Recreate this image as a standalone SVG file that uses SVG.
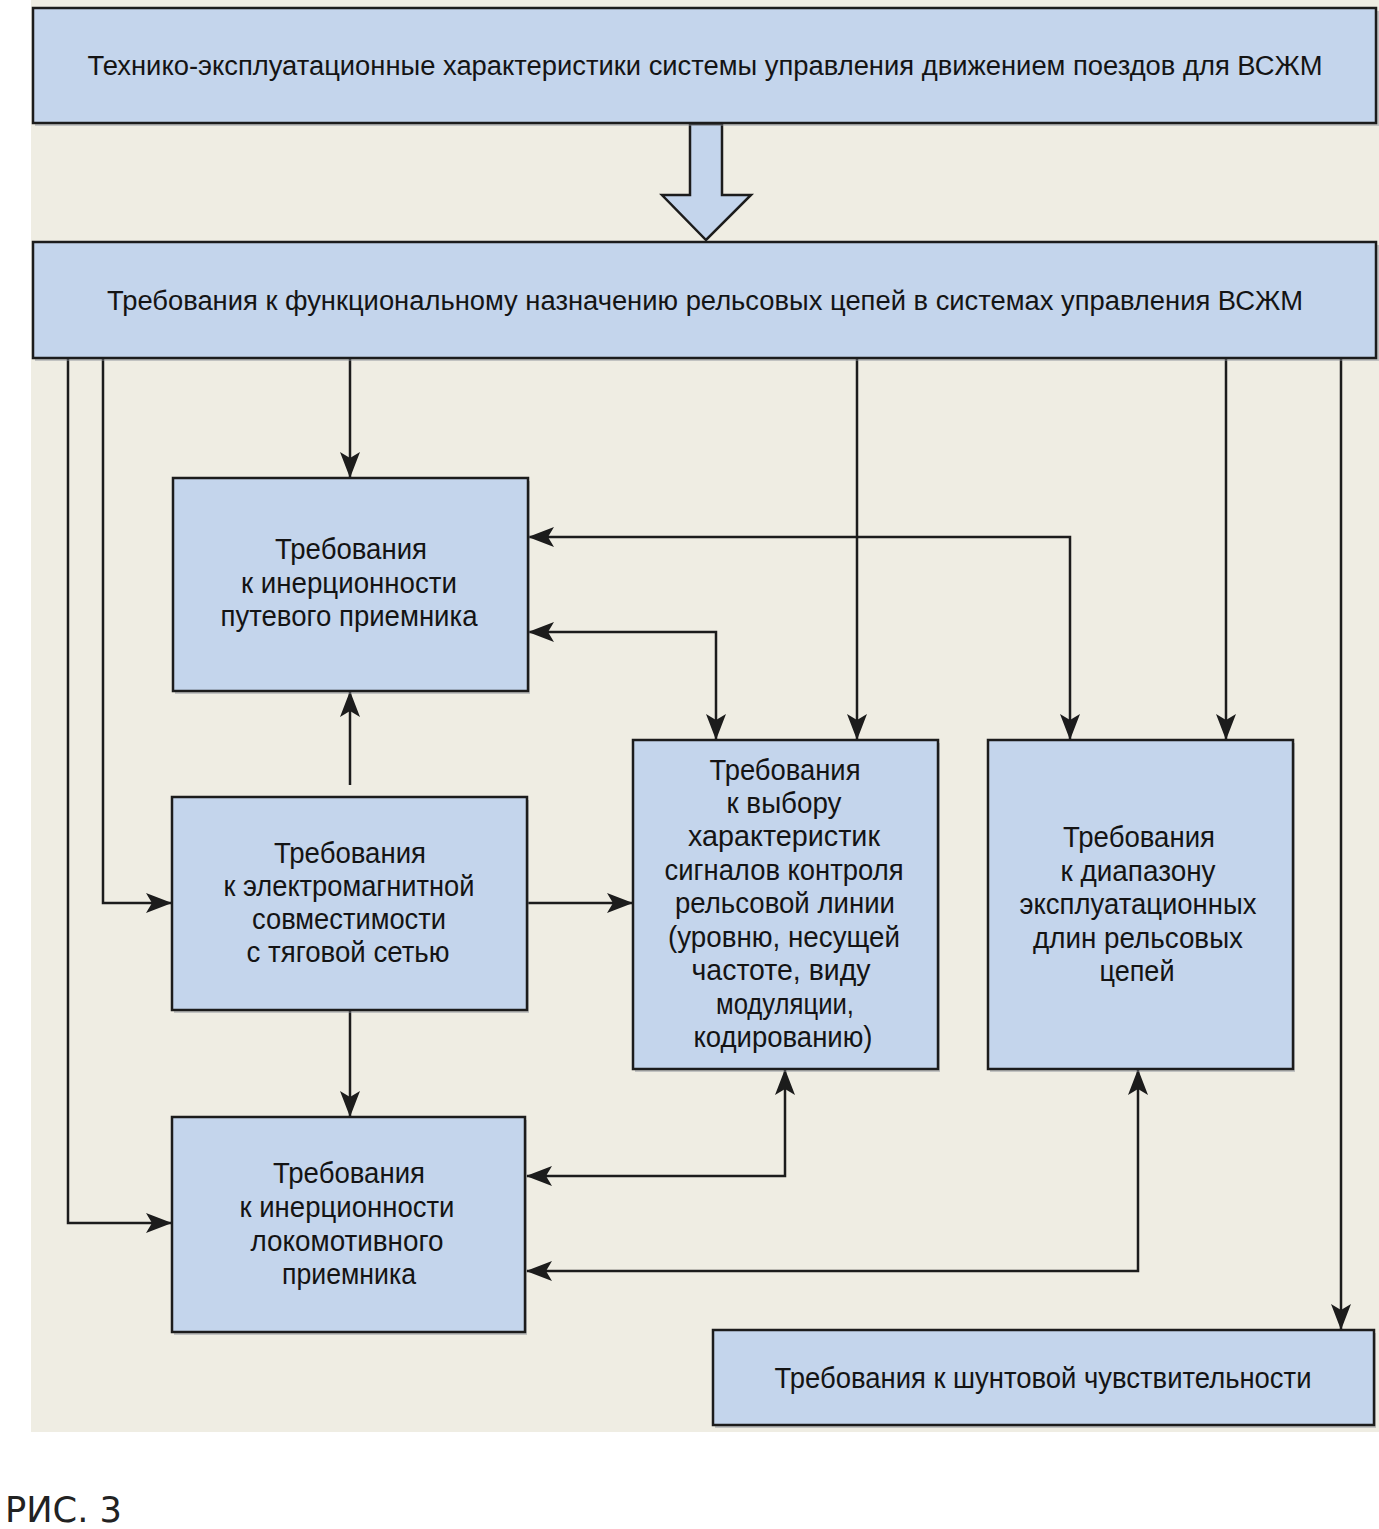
<svg xmlns="http://www.w3.org/2000/svg" width="1379" height="1529" viewBox="0 0 1379 1529">
<defs>
<style>
.bg{fill:#efede3}
.box{fill:#c4d5ec;stroke:#1c1c1c;stroke-width:2.5}
.sh{fill:#8a8f96;opacity:0.45}
.t{font-family:"Liberation Sans",Arial,sans-serif;font-size:30px;fill:#141414;text-anchor:middle}
.tw{font-family:"Liberation Sans",Arial,sans-serif;font-size:27px;fill:#141414;text-anchor:middle}
.c{fill:none;stroke:#1c1c1c;stroke-width:2.5}
</style>
<marker id="ah" markerUnits="userSpaceOnUse" markerWidth="26" markerHeight="22" viewBox="0 0 26 22" refX="25" refY="11" orient="auto-start-reverse">
<path d="M0,1 L26,11 L0,21 L6,11 z" fill="#1c1c1c"/>
</marker>
</defs>
<rect x="0" y="0" width="1379" height="1529" fill="#ffffff"/>
<rect class="bg" x="31" y="0" width="1348" height="1432"/>

<g id="connectors">
<polygon points="690,124 722,124 722,195 751,195 706,240 662,195 690,195" fill="#c4d5ec" stroke="#1c1c1c" stroke-width="2.5"/>
<path class="c" d="M350,358 V477" marker-end="url(#ah)"/>
<path class="c" d="M857,358 V739" marker-end="url(#ah)"/>
<path class="c" d="M1226,358 V739" marker-end="url(#ah)"/>
<path class="c" d="M1341,358 V1329" marker-end="url(#ah)"/>
<path class="c" d="M68,358 V1223 H171" marker-end="url(#ah)"/>
<path class="c" d="M103,358 V903 H171" marker-end="url(#ah)"/>
<path class="c" d="M529,537 H1070 V739" marker-start="url(#ah)" marker-end="url(#ah)"/>
<path class="c" d="M529,632 H716 V739" marker-start="url(#ah)" marker-end="url(#ah)"/>
<path class="c" d="M350,785 V692" marker-end="url(#ah)"/>
<path class="c" d="M527,903 H632" marker-end="url(#ah)"/>
<path class="c" d="M350,1010 V1116" marker-end="url(#ah)"/>
<path class="c" d="M527,1176 H785 V1070" marker-start="url(#ah)" marker-end="url(#ah)"/>
<path class="c" d="M527,1271 H1138 V1070" marker-start="url(#ah)" marker-end="url(#ah)"/>
</g>

<g id="top">
<rect class="sh" x="35" y="11" width="1344" height="115"/>
<rect class="box" x="33" y="8" width="1343" height="115"/>
<text class="tw" x="705" y="75" textLength="1235" lengthAdjust="spacingAndGlyphs">Технико-эксплуатационные характеристики системы управления движением поездов для ВСЖМ</text>
</g>

<g id="func">
<rect class="sh" x="35" y="245" width="1344" height="116"/>
<rect class="box" x="33" y="242" width="1343" height="116"/>
<text class="tw" x="705" y="310" textLength="1196" lengthAdjust="spacingAndGlyphs">Требования к функциональному назначению рельсовых цепей в системах управления ВСЖМ</text>
</g>

<g id="box1">
<rect class="sh" x="175" y="481" width="355" height="213"/>
<rect class="box" x="173" y="478" width="355" height="213"/>
<text class="t" x="351" y="559" textLength="152" lengthAdjust="spacingAndGlyphs">Требования</text>
<text class="t" x="349" y="593" textLength="216" lengthAdjust="spacingAndGlyphs">к инерционности</text>
<text class="t" x="349" y="626" textLength="257" lengthAdjust="spacingAndGlyphs">путевого приемника</text>
</g>

<g id="box2">
<rect class="sh" x="174" y="800" width="355" height="213"/>
<rect class="box" x="172" y="797" width="355" height="213"/>
<text class="t" x="350" y="863" textLength="152" lengthAdjust="spacingAndGlyphs">Требования</text>
<text class="t" x="349" y="896" textLength="251" lengthAdjust="spacingAndGlyphs">к электромагнитной</text>
<text class="t" x="349" y="929" textLength="194" lengthAdjust="spacingAndGlyphs">совместимости</text>
<text class="t" x="348" y="962" textLength="203" lengthAdjust="spacingAndGlyphs">с тяговой сетью</text>
</g>

<g id="box3">
<rect class="sh" x="174" y="1120" width="353" height="215"/>
<rect class="box" x="172" y="1117" width="353" height="215"/>
<text class="t" x="349" y="1183" textLength="152" lengthAdjust="spacingAndGlyphs">Требования</text>
<text class="t" x="347" y="1217" textLength="215" lengthAdjust="spacingAndGlyphs">к инерционности</text>
<text class="t" x="347" y="1251" textLength="193" lengthAdjust="spacingAndGlyphs">локомотивного</text>
<text class="t" x="349" y="1284" textLength="134" lengthAdjust="spacingAndGlyphs">приемника</text>
</g>

<g id="box4">
<rect class="sh" x="635" y="743" width="305" height="329"/>
<rect class="box" x="633" y="740" width="305" height="329"/>
<text class="t" x="785" y="780" textLength="151" lengthAdjust="spacingAndGlyphs">Требования</text>
<text class="t" x="784" y="813" textLength="115" lengthAdjust="spacingAndGlyphs">к выбору</text>
<text class="t" x="784" y="846" textLength="192" lengthAdjust="spacingAndGlyphs">характеристик</text>
<text class="t" x="784" y="880" textLength="239" lengthAdjust="spacingAndGlyphs">сигналов контроля</text>
<text class="t" x="785" y="913" textLength="220" lengthAdjust="spacingAndGlyphs">рельсовой линии</text>
<text class="t" x="784" y="947" textLength="232" lengthAdjust="spacingAndGlyphs">(уровню, несущей</text>
<text class="t" x="781" y="980" textLength="179" lengthAdjust="spacingAndGlyphs">частоте, виду</text>
<text class="t" x="785" y="1014" textLength="138" lengthAdjust="spacingAndGlyphs">модуляции,</text>
<text class="t" x="783" y="1047" textLength="179" lengthAdjust="spacingAndGlyphs">кодированию)</text>
</g>

<g id="box5">
<rect class="sh" x="990" y="743" width="305" height="329"/>
<rect class="box" x="988" y="740" width="305" height="329"/>
<text class="t" x="1139" y="847" textLength="152" lengthAdjust="spacingAndGlyphs">Требования</text>
<text class="t" x="1138" y="881" textLength="155" lengthAdjust="spacingAndGlyphs">к диапазону</text>
<text class="t" x="1138" y="914" textLength="237" lengthAdjust="spacingAndGlyphs">эксплуатационных</text>
<text class="t" x="1138" y="948" textLength="210" lengthAdjust="spacingAndGlyphs">длин рельсовых</text>
<text class="t" x="1137" y="981" textLength="75" lengthAdjust="spacingAndGlyphs">цепей</text>
</g>

<g id="shunt">
<rect class="sh" x="715" y="1333" width="661" height="95"/>
<rect class="box" x="713" y="1330" width="661" height="95"/>
<text class="t" x="1043" y="1388" textLength="537" lengthAdjust="spacingAndGlyphs">Требования к шунтовой чувствительности</text>
</g>

<g id="caption">
<text x="5" y="1522" font-family="DejaVu Sans, sans-serif" font-size="36" fill="#222" textLength="117" lengthAdjust="spacingAndGlyphs">РИС. 3</text>
</g>
</svg>
